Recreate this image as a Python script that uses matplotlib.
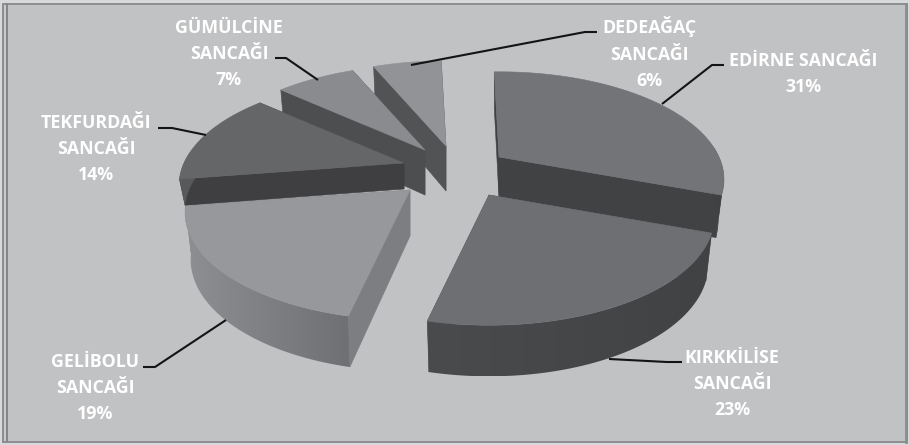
import numpy as np
import matplotlib
matplotlib.use('Agg')
import matplotlib.pyplot as plt
from matplotlib.colors import LinearSegmentedColormap
from matplotlib.patches import Polygon, Rectangle

# data, clockwise from 12 o'clock
names = ['EDİRNE SANCAĞI', 'KIRKKİLİSE\nSANCAĞI', 'GELİBOLU\nSANCAĞI',
         'TEKFURDAĞI\nSANCAĞI', 'GÜMÜLCİNE\nSANCAĞI', 'DEDEAĞAÇ\nSANCAĞI']
shares = [31, 23, 19, 14, 7, 6]

# explode of each slice in pixels, and depth of its wall
explode_x = [49, 39, -40, -46, -25, -4]
explode_y = [-11, 27, 22, -5, -18, -22]
depths = [41, 46, 46, 26, 45, 45]

top_colors = ['#737477', '#6e6f72', '#97989b', '#656668', '#8a8b8e', '#929396']
cut_colors = ['#414244', '#4f5052', '#7d7e81', '#3f3f41', '#4d4e50', '#525355']
rim_left = ['#404143', '#4a4b4d', '#8e8f92', '#58595b', '#6a6b6d', '#77787a']
rim_right = ['#404143', '#414244', '#6f7073', '#58595b', '#6a6b6d', '#77787a']
draw_order = [5, 4, 3, 0, 2, 1]

label_pos = [(803, 74), (732, 384), (95, 388), (96, 149), (229, 54), (649, 53)]
leaders = [
    [(724, 65), (712, 65), (662, 104)],
    [(682, 362), (667, 362), (609, 359)],
    [(143, 367), (155, 367), (226, 320)],
    [(158, 128), (172, 128), (206, 135)],
    [(275, 58), (286, 58), (318, 80)],
    [(597, 32), (585, 32), (411, 65)],
]

cx, cy = 450, 168
rx, ry, persp = 220, 103, 0.209
first_angle = -1.5
taper = 0.975  # the underside of the pie looks a bit narrower


def project(angle, depth):
    # plane -> screen offset, front of the pie is nearer to the viewer
    u, v = np.sin(angle), np.cos(angle)
    w = 1 + persp * v
    return rx * u / w, -ry * v / w, depth / (1 + 0.1 * v)


fig = plt.figure(figsize=(9.09, 4.45), dpi=100, facecolor='#d8d9da')
ax = fig.add_axes([0, 0, 1, 1])

# frame
ax.add_patch(Rectangle((2.5, 4), 904.5, 438, fc='#c8c9cb', ec='#8c8d8f', lw=1.4, zorder=0))
ax.add_patch(Rectangle((6.5, 5), 899, 436, fc='#c1c2c4', ec='none', zorder=0.1))
ax.plot([6.5, 6.5], [4, 441], color='#85868a', lw=1.4, zorder=0.2)
ax.plot([906, 906], [4, 442], color='#8c8d8f', lw=2, zorder=0.2)

edges = np.radians(first_angle + np.cumsum([0] + shares) * 3.6)

for n, i in enumerate(draw_order):
    px, py = cx + explode_x[i], cy + explode_y[i]
    th = np.linspace(edges[i], edges[i + 1], 120)
    dx, dy, h = project(th, depths[i])
    x, y = px + dx, py + dy
    bx = px + dx * taper

    # the two cut faces
    for k in (0, -1):
        ax.add_patch(Polygon([(px, py), (x[k], y[k]), (bx[k], y[k] + h[k]), (px, py + depths[i])],
                             fc=cut_colors[i], ec=cut_colors[i], lw=0.4, zorder=n + 1))

    # outer wall only where it faces the viewer, shaded left to right
    front = np.cos(th) < 0.1
    if front.any():
        wx, wb, wy, wh = x[front], bx[front], y[front], h[front]
        outline = np.column_stack([np.r_[wx, wb[::-1]], np.r_[wy, (wy + wh)[::-1]]])
        wall = Polygon(outline, closed=True, fc='none', ec='none', transform=ax.transData)
        ax.add_patch(wall)
        cmap = LinearSegmentedColormap.from_list('rim', [rim_left[i], rim_right[i]])
        img = ax.imshow(np.linspace(0, 1, 256)[None, :], cmap=cmap, aspect='auto',
                        extent=(outline[:, 0].min(), outline[:, 0].max(),
                                outline[:, 1].max(), outline[:, 1].min()), zorder=n + 1.2)
        img.set_clip_path(wall)

    # top face
    ax.add_patch(Polygon(np.column_stack([np.r_[px, x], np.r_[py, y]]), closed=True,
                         fc=top_colors[i], ec=top_colors[i], lw=0.4, zorder=n + 1.5))

ax.set_xlim(0, 909)
ax.set_ylim(445, 0)
ax.axis('off')

for pts in leaders:
    xs, ys = zip(*pts)
    ax.plot(xs, ys, color='#141414', lw=1.5, solid_capstyle='butt',
            solid_joinstyle='miter', zorder=20)

for name, share, (lx, ly) in zip(names, shares, label_pos):
    ax.text(lx, ly, f'{name}\n{share}%', color='white', ha='center', va='center', zorder=21,
            family='Open Sans', fontsize=12.8, fontweight='bold', linespacing=1.6)

fig.savefig('out.png', dpi=100, facecolor=fig.get_facecolor())
